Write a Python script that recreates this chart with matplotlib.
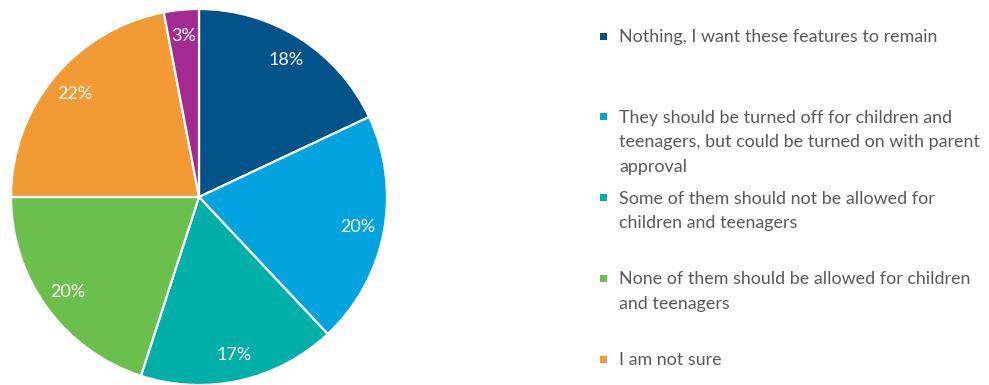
import matplotlib
matplotlib.use("Agg")
import matplotlib.pyplot as plt
from matplotlib.patches import Rectangle

# survey answers, clockwise from 12 o'clock
answers = [
    "Nothing, I want these features to remain",
    "They should be turned off for children and\nteenagers, but could be turned on with parent\napproval",
    "Some of them should not be allowed for\nchildren and teenagers",
    "None of them should be allowed for children\nand teenagers",
    "I am not sure",
    "Other",
]
shares = [18, 20, 17, 20, 22, 3]
colors = ["#02538A", "#03A3E0", "#00AFA7", "#6BBF4C", "#F29A34", "#A22A90"]

W, H = 989, 385
fig = plt.figure(figsize=(W / 100, H / 100), dpi=100)
plt.rcParams["font.family"] = ["Lato", "DejaVu Sans"]

# pie: centre (199, 197) px, radius 188 px
cx, cy, r = 199, 197, 188
ax = fig.add_axes([(cx - r) / W, (H - cy - r) / H, 2 * r / W, 2 * r / H])
ax.pie(
    shares,
    colors=colors,
    startangle=90,
    counterclock=False,
    radius=1,
    autopct=lambda p: f"{p:.0f}%",
    pctdistance=0.86,
    wedgeprops=dict(edgecolor="white", linewidth=1.6),
    textprops=dict(color="white", fontsize=13),
)
ax.set_xlim(-1, 1)
ax.set_ylim(-1, 1)
ax.set_aspect("equal")
ax.axis("off")

# legend, one fixed-height slot per answer (last one falls off the bottom)
slot_top = 36
slot_step = 80.75
for i, (label, col) in enumerate(zip(answers, colors)):
    y = slot_top + slot_step * i
    if y > H:
        break
    fig.patches.append(Rectangle(((603 - 3.5) / W, (H - y - 3.5) / H), 7 / W, 7 / H,
                                 transform=fig.transFigure, facecolor=col,
                                 edgecolor="none"))
    fig.text(619 / W, (H - y + 7) / H, label, color="#595959", fontsize=12.85,
             va="top", ha="left", linespacing=1.66)

fig.savefig("out.png", dpi=100)
